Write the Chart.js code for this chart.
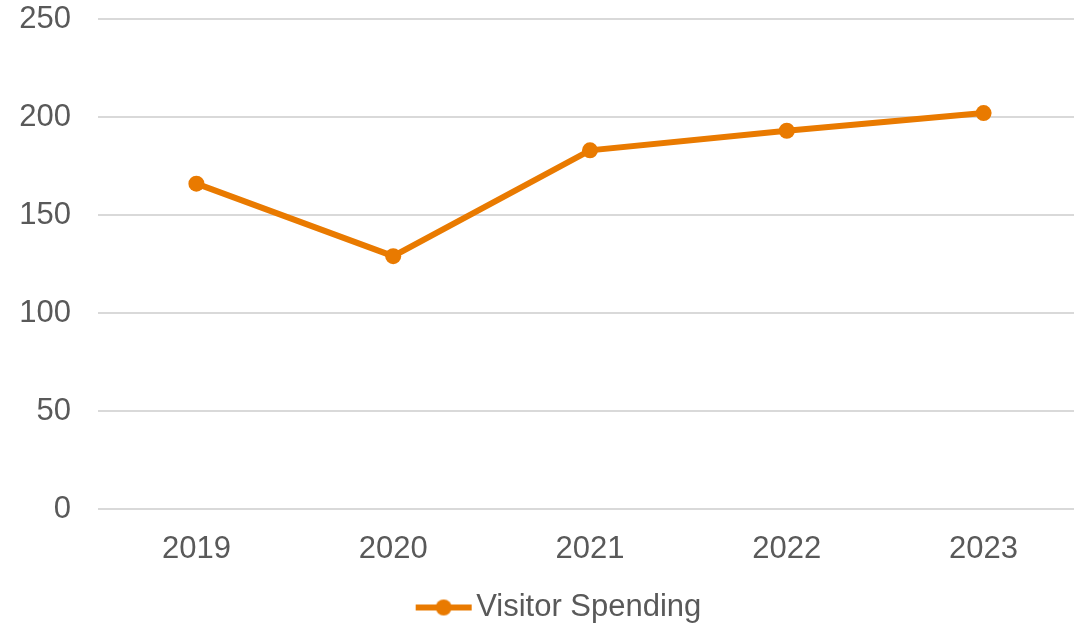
<!DOCTYPE html>
<html lang="en">
<head>
    <meta charset="UTF-8">
    <title>Visitor Spending</title>
    <script src="https://cdn.jsdelivr.net/npm/chart.js"></script>
    <style>
        html, body { margin: 0; padding: 0; overflow: hidden; background: #fff; }
        #wrap { width: 1090px; height: 633px; }
    </style>
</head>
<body>

<div id="wrap">
    <canvas id="spendChart"></canvas>
</div>

<script>
    // chart data
    const years = ['2019', '2020', '2021', '2022', '2023'];
    const visitorSpending = [166, 129, 183, 193, 202];
    const yTicks = [0, 50, 100, 150, 200, 250];

    const orange = '#E97A00';
    const textGrey = '#595959';

    // legend marker: line with a dot in the middle (left part transparent to nudge legend right)
    function legendMarker() {
        const c = document.createElement('canvas');
        c.width = 110;
        c.height = 20;
        const g = c.getContext('2d');
        g.strokeStyle = orange;
        g.lineWidth = 6;
        g.beginPath();
        g.moveTo(48, 10);
        g.lineTo(104, 10);
        g.stroke();
        g.fillStyle = orange;
        g.beginPath();
        g.arc(76, 10, 8, 0, Math.PI * 2);
        g.fill();
        return c;
    }
    const marker = legendMarker();

    Chart.defaults.font.family = '"Liberation Sans", Arial, sans-serif';
    Chart.defaults.color = textGrey;

    new Chart(document.getElementById('spendChart'), {
        type: 'line',
        data: {
            labels: years,
            datasets: [{
                label: 'Visitor Spending',
                data: visitorSpending,
                borderColor: orange,
                backgroundColor: orange,
                borderWidth: 6,
                pointRadius: 8,
                pointHoverRadius: 8,
                pointBorderWidth: 0,
                tension: 0
            }]
        },
        options: {
            responsive: true,
            maintainAspectRatio: false,
            animation: false,
            layout: { padding: { top: 19, right: 4, bottom: 0, left: 0 } },
            plugins: {
                tooltip: { enabled: false },
                legend: {
                    position: 'bottom',
                    labels: {
                        usePointStyle: true,
                        pointStyleWidth: 76,
                        boxHeight: 20,
                        font: { size: 31 },
                        color: textGrey,
                        padding: 3,
                        generateLabels: function () {
                            return [{
                                text: 'Visitor Spending',
                                pointStyle: marker,
                                fillStyle: orange,
                                strokeStyle: orange,
                                fontColor: textGrey,
                                lineWidth: 0,
                                datasetIndex: 0
                            }];
                        }
                    }
                }
            },
            scales: {
                x: {
                    offset: true,
                    grid: { display: false, drawTicks: false },
                    border: { display: false },
                    ticks: { font: { size: 31 }, color: textGrey, padding: 22 },
                    afterFit: function (scale) { scale.height = 80; }
                },
                y: {
                    min: 0,
                    max: 250,
                    afterBuildTicks: function (scale) {
                        scale.ticks = yTicks.map(v => ({ value: v }));
                    },
                    grid: { color: '#D9D9D9', lineWidth: 2, drawTicks: false },
                    border: { display: false },
                    ticks: { font: { size: 31 }, color: textGrey, padding: 27 },
                    afterFit: function (scale) {
                        scale.width = 98;
                        scale.paddingTop = 0;
                        scale.paddingBottom = 0;
                    }
                }
            }
        }
    });
</script>

</body>
</html>
